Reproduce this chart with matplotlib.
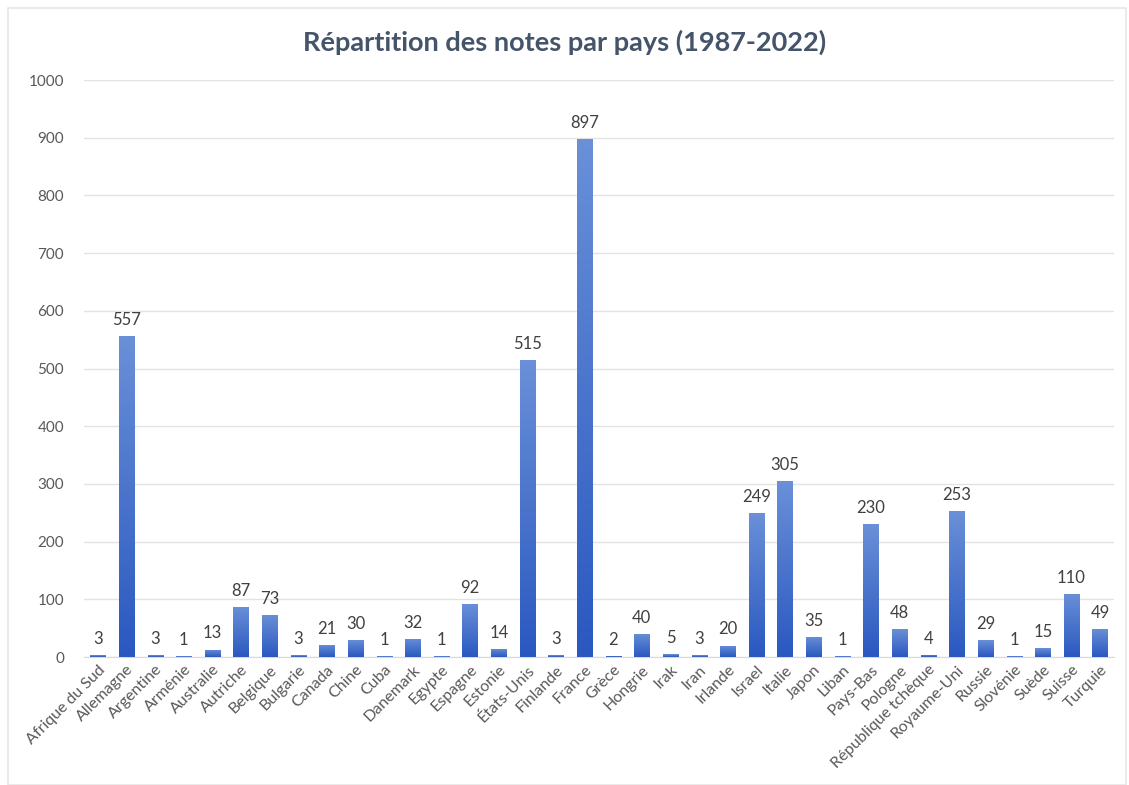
import matplotlib.pyplot as plt
import numpy as np
from matplotlib.colors import LinearSegmentedColormap
from matplotlib.patches import Rectangle

pays = ['Afrique du Sud', 'Allemagne', 'Argentine', 'Arménie', 'Australie', 'Autriche',
        'Belgique', 'Bulgarie', 'Canada', 'Chine', 'Cuba', 'Danemark', 'Egypte', 'Espagne',
        'Estonie', 'États-Unis', 'Finlande', 'France', 'Grèce', 'Hongrie', 'Irak', 'Iran',
        'Irlande', 'Israel', 'Italie', 'Japon', 'Liban', 'Pays-Bas', 'Pologne',
        'République tchèque', 'Royaume-Uni', 'Russie', 'Slovénie', 'Suède', 'Suisse', 'Turquie']
notes = [3, 557, 3, 1, 13, 87, 73, 3, 21, 30, 1, 32, 1, 92, 14, 515, 3, 897, 2, 40, 5, 3,
         20, 249, 305, 35, 1, 230, 48, 4, 253, 29, 1, 15, 110, 49]
yticks = [0, 100, 200, 300, 400, 500, 600, 700, 800, 900, 1000]

plt.rcParams['font.family'] = ['Lato', 'DejaVu Sans']

fig = plt.figure(figsize=(11.29, 7.85), dpi=100)
# faint chart border
fig.patches.append(Rectangle((0.007, 0.0), 0.99, 0.99, transform=fig.transFigure,
                             fill=False, edgecolor='#e6e6e6', linewidth=1.2))
ax = fig.add_axes([0.074, 0.163, 0.913, 0.735])

x = np.arange(len(pays))
bars = ax.bar(x, notes, width=0.53, color='#3a66c8', zorder=2)

# vertical gradient inside each bar
grad = LinearSegmentedColormap.from_list('g', ['#2a58c0', '#6a90d8'])
gimg = np.linspace(0, 1, 256).reshape(-1, 1)
for b in bars:
    x0, w, h = b.get_x(), b.get_width(), b.get_height()
    im = ax.imshow(gimg, cmap=grad, aspect='auto', origin='lower',
                   extent=(x0, x0 + w, 0, max(h, 0.01)), zorder=3)
    im.set_clip_path(b)

for xi, v in zip(x, notes):
    ax.text(xi, v + 14, str(v), ha='center', va='bottom', fontsize=12, color='#404040')

ax.set_xlim(-0.5, len(pays) - 0.5)
ax.set_ylim(0, 1000)
ax.set_yticks(yticks)
ax.tick_params(axis='y', length=0, labelsize=11, labelcolor='#595959', pad=14)
ax.tick_params(axis='x', length=0, labelsize=11.5, labelcolor='#595959', pad=4)
ax.set_xticks(x)
ax.set_xticklabels(pays, rotation=45, ha='right', rotation_mode='anchor')
ax.grid(axis='y', color='#e3e3e3', linewidth=1, zorder=0)
for s in ['top', 'right', 'left']:
    ax.spines[s].set_visible(False)
ax.spines['bottom'].set_color('#d9d9d9')

fig.suptitle('Répartition des notes par pays (1987-2022)', y=0.962, fontsize=19.5,
             fontweight='bold', color='#44546a')

fig.savefig('out.png', dpi=100, facecolor='white')
